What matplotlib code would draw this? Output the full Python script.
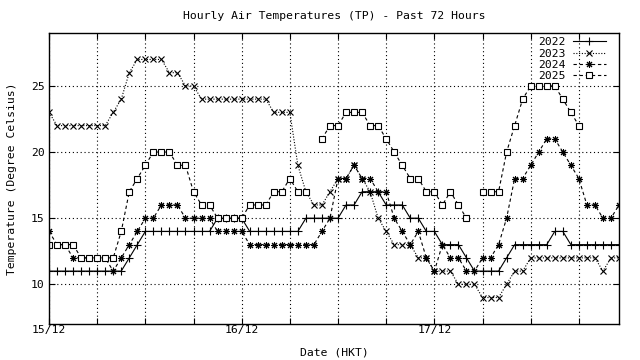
import numpy as np
import matplotlib
matplotlib.use("Agg")
import matplotlib.pyplot as plt

NaN = np.nan
hours = list(range(72))
day_ticks = [0, 24, 48]
day_labels = ["15/12", "16/12", "17/12"]

t2022 = [11]*10 + [12, 13] + [14]*9 + [15]*4 + [14]*7 + [15]*5 + [16, 16] + [17]*3 + [16]*3 + \
        [15, 15] + [14, 14] + [13]*3 + [12] + [11]*4 + [12] + [13]*5 + [14, 14] + [13]*7
t2023 = [23] + [22]*7 + [23, 24, 26] + [27]*4 + [26, 26, 25, 25] + [24]*9 + [23]*3 + \
        [19, 17, 16, 16, 17, 18, 18, 19, 18, 17, 15, 14, 13, 13, 13, 12, 12] + [11]*3 + [10]*3 + \
        [9]*3 + [10, 11, 11] + [12]*9 + [11, 12, 12]
t2024 = [14, 13, 13, 12, 12, 12, 12, 12, 11, 12, 13, 14, 15, 15, 16, 16, 16, 15, 15, 15, 15,
         14, 14, 14, 14] + [13]*9 + [14, 15, 18, 18, 19, 18, 18, 17, 17, 15, 14, 13, 14, 12, 11,
         13, 12, 12, 11, 11, 12, 12, 13, 15, 18, 18, 19, 20, 21, 21, 20, 19, 18, 16, 16, 15, 15, 16]
t2025 = [13]*4 + [12]*5 + [14, 17, 18, 19, 20, 20, 20, 19, 19, 17, 16, 16, 15, 15, 15, 15,
         16, 16, 16, 17, 17, 18, 17, 17, NaN, 21, 22, 22, 23, 23, 23, 22, 22, 21, 20, 19, 18, 18,
         17, 17, 16, 17, 16, 15, NaN, 17, 17, 17, 20, 22, 24, 25, 25, 25, 25, 24, 23, 22] + [NaN]*5

series = [
    ("2022", t2022, dict(linestyle="-", marker="+", ms=6, mew=0.8)),
    ("2023", t2023, dict(linestyle=(0, (1, 1.5)), marker="x", ms=4.2, mew=0.8)),
    ("2024", t2024, dict(linestyle=(0, (3, 2.5)), marker=(8, 2, 0), ms=5, mew=0.75)),
    ("2025", t2025, dict(linestyle=(0, (3, 2.5)), marker="s", ms=4.2, mew=0.8,
                         mfc="white")),
]

mono = "DejaVu Sans Mono"
fs = 8.2
plt.rcParams["font.family"] = [mono]

fig = plt.figure(figsize=(6.4, 3.6), dpi=100)
ax = fig.add_axes([49/640, 1-324/360, (619-49)/640, (324-33)/360])

for name, vals, st in series:
    ax.plot(hours, vals, color="black", lw=0.8, mec="black", label=name, **st)

ax.set_xlim(0, 71)
ax.set_ylim(7, 29)
ax.set_xticks(list(range(0, 72, 6)))
ax.set_xticklabels([day_labels[day_ticks.index(h)] if h in day_ticks else "" for h in range(0, 72, 6)])
ax.set_yticks([10, 15, 20, 25])
ax.grid(True, color="black", linestyle=(0, (1, 2.5)), linewidth=0.8)
ax.tick_params(direction="in", length=4.5, width=0.8, top=True, right=True,
               labelsize=fs, pad=3, colors="black")
ax.tick_params(axis="x", pad=0.5)
for sp in ax.spines.values():
    sp.set_linewidth(1.0)

ax.set_xlabel("Date (HKT)", fontsize=fs, labelpad=9)
ax.set_ylabel("Temperature (Degree Celsius)", fontsize=fs, labelpad=10)
fig.text((49+619)/2/640, 1-16/360, "Hourly Air Temperatures (TP) - Past 72 Hours",
         ha="center", va="center", fontsize=fs)

leg = ax.legend(loc="upper right", bbox_to_anchor=(0.977, 0.985), frameon=False,
                markerfirst=False, fontsize=fs, handlelength=2.9, labelspacing=0.1,
                borderpad=0.0, borderaxespad=0.0, handletextpad=0.6)

fig.savefig("out.png", dpi=100)
